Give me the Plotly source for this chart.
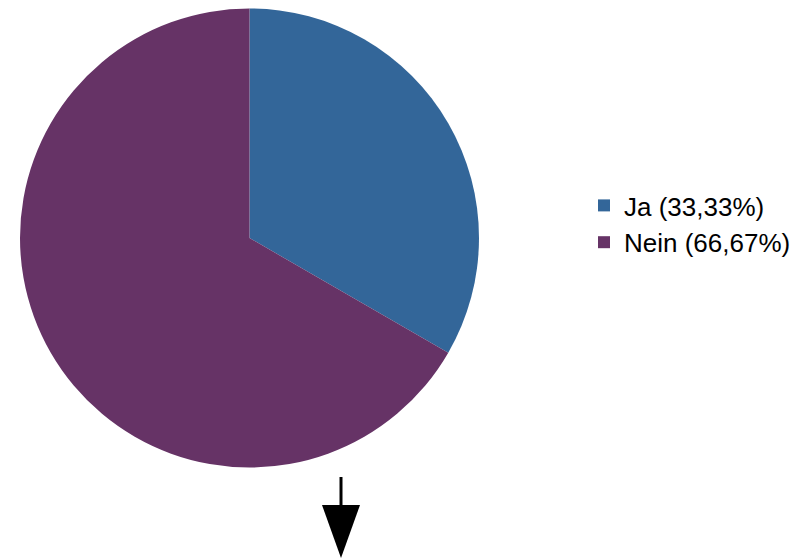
import plotly.graph_objects as go

labels = ["Ja (33,33%)", "Nein (66,67%)"]
values = [33.33, 66.67]
colors = ["#336699", "#663366"]

W, H = 811, 559
OFF = 8  # page body margin offset


def px(x):
    return (x - OFF) / W


def py(y):
    return (H - (y - OFF)) / H


fig = go.Figure(go.Pie(
    labels=labels, values=values, sort=False, direction="clockwise", rotation=0,
    marker=dict(colors=colors, line=dict(width=0)),
    textinfo="none", hoverinfo="label+value",
    domain=dict(x=[px(20), px(479)], y=[py(468), min(1, py(8))]),
))

# decorative arrow below the pie
fig.add_shape(type="line", xref="paper", yref="paper",
              x0=px(341), x1=px(341), y0=py(477), y1=py(506),
              line=dict(color="black", width=3))
fig.add_shape(type="path", xref="paper", yref="paper",
              path=f"M {px(322)} {py(505)} L {px(360)} {py(505)} L {px(341)} {py(558)} Z",
              fillcolor="black", line=dict(color="black", width=0))

fig.update_layout(
    width=W, height=H, margin=dict(l=0, r=0, t=0, b=0),
    paper_bgcolor="white", plot_bgcolor="white",
    font=dict(family="Liberation Sans, Arial, sans-serif", size=20, color="black"),
    showlegend=True,
    legend=dict(x=px(584), y=py(224), xanchor="left", yanchor="middle",
                font=dict(size=26), itemwidth=30, bgcolor="rgba(0,0,0,0)"),
)
fig.write_html("out.html")
